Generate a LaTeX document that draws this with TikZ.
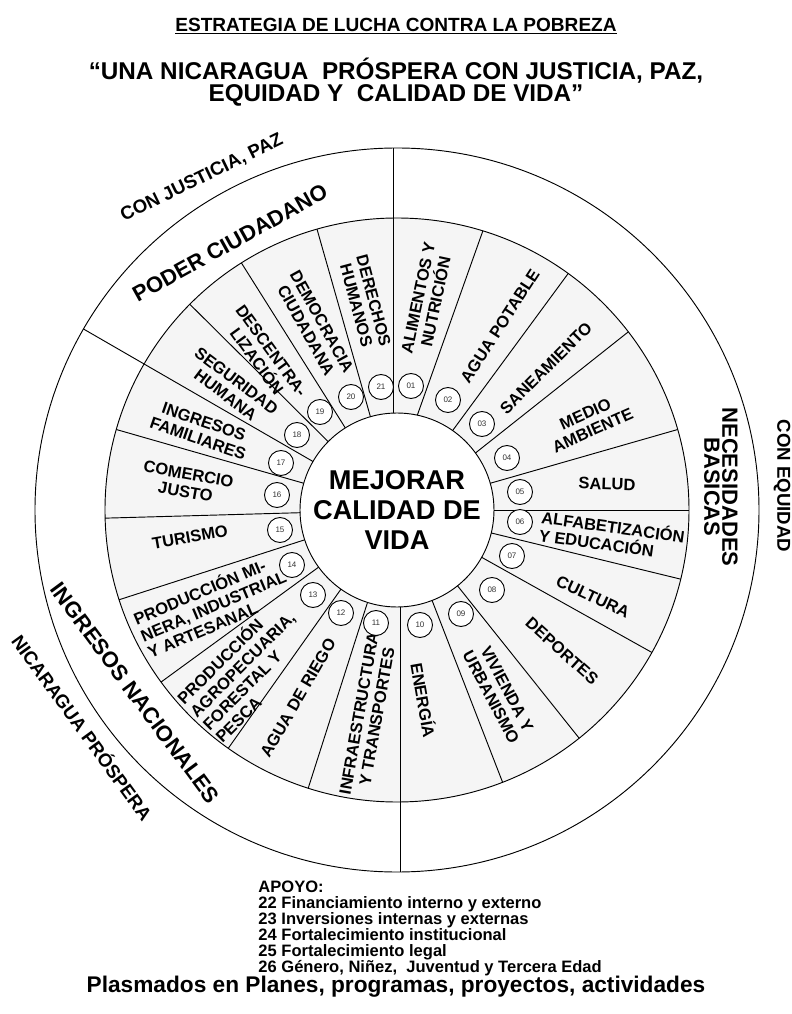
\documentclass[tikz,border=0pt]{standalone}
\usepackage{fontspec}
\setmainfont{Liberation Sans}
\begin{document}
\begin{tikzpicture}[x=0.75pt,y=0.75pt,line width=0.7pt,
  lbl/.style={font=\fontsize{12.4}{13.5}\selectfont\bfseries,align=center,inner sep=0pt},
  lbll/.style={lbl,align=left},
  num/.style={circle,draw,fill=white,minimum size=18.75pt,inner sep=0pt,font=\fontsize{6}{6}\selectfont,text=black!80},
  ring/.style={font=\fontsize{16.5}{13.5}\selectfont\bfseries,align=center,inner sep=0pt},
  outer/.style={font=\fontsize{14}{16}\selectfont\bfseries,inner sep=0pt}]
\useasboundingbox (-397,-504) rectangle (395,510);
\fill[black!4,even odd rule] (0,0) circle (292) (0,0) circle (97);
\draw (0,0) circle (97);
\draw (0,0) circle (292);
\draw (0,0) circle (362);
\draw (-3.5,97) -- (-3.5,362);
\draw (150:97) -- (150:362);
\draw (3,-97) -- (3,-362);
\draw (77.9:97) -- (72.9:292);
\draw (55:97) -- (54.1:292);
\draw (36:97) -- (37.6:292);
\draw (16:97) -- (16:292);
\draw (0:97) -- (0:292);
\draw (-13.7:97) -- (-13.7:292);
\draw (-29.2:97) -- (-29.2:292);
\draw (-51.4:97) -- (-51.4:292);
\draw (-68.8:97) -- (-68.8:292);
\draw (252.3:97) -- (252.3:292);
\draw (234.7:97) -- (234.7:292);
\draw (216.1:97) -- (216.1:292);
\draw (197.9:97) -- (197.9:292);
\draw (181.6:97) -- (181.6:292);
\draw (164:97) -- (164:292);
\draw (135.2:97) -- (135.2:292);
\draw (122.2:97) -- (122.2:292);
\draw (105.9:97) -- (105.9:292);

\node[font=\fontsize{20.4}{22.5}\selectfont\bfseries,align=center] (centro) at (0,0) {MEJORAR\\CALIDAD DE\\VIDA};

\node[lbl,rotate=78] (l01) at (30,210) {ALIMENTOS Y\\NUTRICIÓN};
\node[lbl,rotate=57] (l02) at (103,184) {AGUA POTABLE};
\node[lbl,rotate=45] (l03) at (149,142) {SANEAMIENTO};
\node[lbl,rotate=24] (l04) at (192,88) {MEDIO\\AMBIENTE};
\node[lbl,rotate=-2] (l05) at (210,26) {SALUD};
\node[lbll,rotate=-8] (l06) at (215,-25) {ALFABETIZACIÓN\\Y EDUCACIÓN};
\node[lbl,rotate=-25] (l07) at (196,-87) {CULTURA};
\node[lbl,rotate=-42] (l08) at (165,-141) {DEPORTES};
\node[lbl,rotate=-62] (l09) at (102,-183) {VIVIENDA Y\\URBANISMO};
\node[lbl,rotate=-80] (l10) at (27,-190) {ENERGÍA};
\node[lbl,rotate=80] (l11) at (-29,-205) {INFRAESTRUCTURA\\Y TRANSPORTES};
\node[lbl,rotate=60] (l12) at (-99,-188) {AGUA DE RIEGO};
\node[lbll,rotate=45] (l13) at (-149,-160) {PRODUCCIÓN\\AGROPECUARIA,\\FORESTAL Y\\PESCA};
\node[lbll,rotate=23] (l14) at (-184,-95) {PRODUCCIÓN MI-\\NERA, INDUSTRIAL\\Y ARTESANAL};
\node[lbl,rotate=10] (l15) at (-207,-27) {TURISMO};
\node[lbl,rotate=-10] (l16) at (-210,27) {COMERCIO\\JUSTO};
\node[lbl,rotate=-19] (l17) at (-196,80) {INGRESOS\\FAMILIARES};
\node[lbl,rotate=-37] (l18) at (-166,122) {SEGURIDAD\\HUMANA};
\node[lbl,rotate=-54] (l19) at (-133,154) {DESCENTRA-\\LIZACIÓN};
\node[lbl,rotate=-61] (l20) at (-83,184) {DEMOCRACIA\\CIUDADANA};
\node[lbl,rotate=-75] (l21) at (-32,207) {DERECHOS\\HUMANOS};

\node[num] (n01) at (14,124) {01};
\node[num] (n02) at (51,110) {02};
\node[num] (n03) at (85,86) {03};
\node[num] (n04) at (110,52) {04};
\node[num] (n05) at (123,18) {05};
\node[num] (n06) at (123,-12) {06};
\node[num] (n07) at (115,-46) {07};
\node[num] (n08) at (95,-80) {08};
\node[num] (n09) at (64,-104) {09};
\node[num] (n10) at (23,-115) {10};
\node[num] (n11) at (-21,-113) {11};
\node[num] (n12) at (-56,-103) {12};
\node[num] (n13) at (-84,-85) {13};
\node[num] (n14) at (-105,-55) {14};
\node[num] (n15) at (-117,-20) {15};
\node[num] (n16) at (-120,15) {16};
\node[num] (n17) at (-116,47) {17};
\node[num] (n18) at (-100,75) {18};
\node[num] (n19) at (-77,98) {19};
\node[num] (n20) at (-46,113) {20};
\node[num] (n21) at (-16,123) {21};

\node[ring,rotate=29] (poder) at (-167,267) {PODER CIUDADANO};
\node[ring,rotate=-90] (necesidades) at (324,23) {NECESIDADES\\BASICAS};
\node[ring,rotate=-53.5] (ingresos) at (-262,-183) {INGRESOS NACIONALES};
\node[outer,rotate=26] (justicia) at (-195,332) {CON JUSTICIA, PAZ};
\node[outer,rotate=-90] (equidad) at (385,24) {CON EQUIDAD};
\node[outer,rotate=-54] (prospera) at (-314,-217) {NICARAGUA PRÓSPERA};

\node[font=\fontsize{14.3}{16}\selectfont\bfseries] (estrategia) at (-1,484) {\underline{ESTRATEGIA DE LUCHA CONTRA LA POBREZA}};
\node[font=\fontsize{18.2}{17}\selectfont\bfseries,align=center] (lema) at (-1,428) {“UNA NICARAGUA\ \ PRÓSPERA CON JUSTICIA, PAZ,\\EQUIDAD Y\ \ CALIDAD DE VIDA”};
\node[anchor=north west,font=\fontsize{12.4}{12}\selectfont\bfseries,align=left,inner sep=0pt] (apoyo) at (-139,-370) {APOYO:\\22 Financiamiento interno y externo\\23 Inversiones internas y externas\\24 Fortalecimiento institucional\\25 Fortalecimiento legal\\26 Género, Niñez,\ \ Juventud y Tercera Edad};
\node[font=\fontsize{17}{17}\selectfont\bfseries] (plasmados) at (-1,-477) {Plasmados en Planes, programas, proyectos, actividades};
\end{tikzpicture}
\end{document}
